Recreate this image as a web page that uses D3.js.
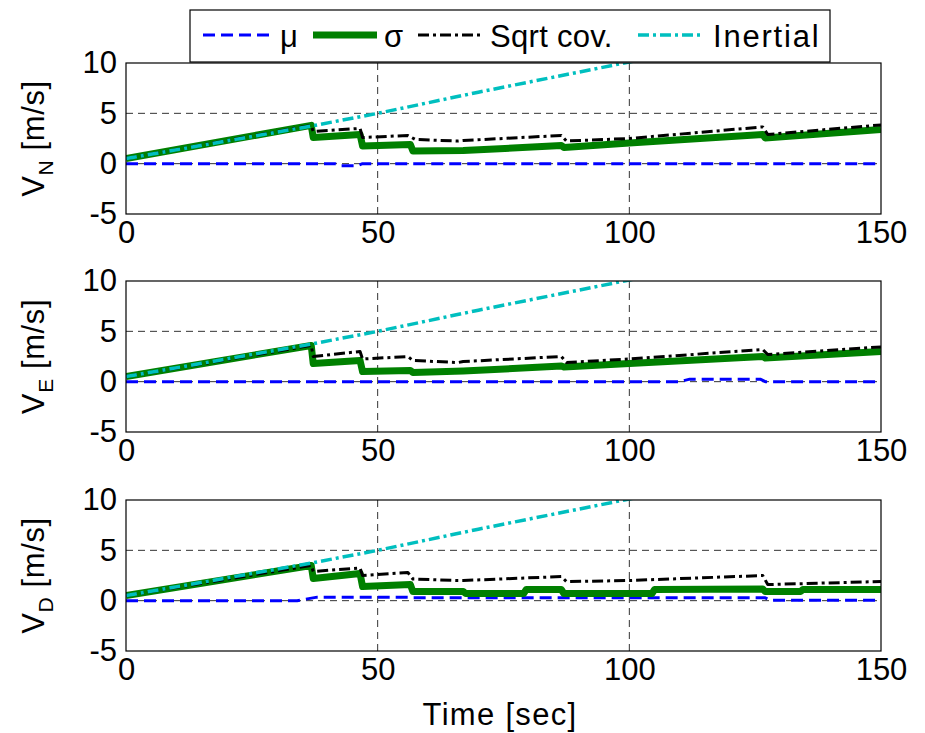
<!DOCTYPE html>
<html>
<head>
<meta charset="utf-8">
<script src="https://cdn.jsdelivr.net/npm/d3@7"></script>
<style>
  html, body { margin: 0; padding: 0; background: #fff; }
  svg { display: block; }
  text { font-family: "Liberation Sans", Arial, Helvetica, sans-serif; fill: #000; }
</style>
</head>
<body>
<svg id="chart" width="925" height="733"></svg>
<script>
// ---------------- DATA ----------------
const timeTicks = [0, 50, 100, 150];
const valueTicks = [-5, 0, 5, 10];
const panelNames = ["N", "E", "D"];
const legendLabels = ["\u03bc", "\u03c3", "Sqrt cov.", "Inertial"];
const xLabel = "Time [sec]";

// Inertial (same in all panels)
const inertialT = [0, 37, 50, 70, 100, 150];
const inertialV = [0.5, 3.75, 5.0, 7.1, 10.1, 15.3];

// Panel V_N
const muT_N = [0, 41.5, 42.5, 46, 47, 150];
const muV_N = [0, 0, -0.2, -0.2, 0, 0];
const sigmaT_N = [0, 36.8, 37.2, 46.5, 47, 56.5, 57, 67, 86.5, 87, 100, 126.5, 127, 150];
const sigmaV_N = [0.5, 3.8, 2.6, 2.9, 1.75, 1.9, 1.25, 1.3, 1.8, 1.6, 2.05, 2.9, 2.55, 3.4];
const covT_N = [0, 36.8, 37.2, 46.5, 47, 56, 57.5, 66, 67, 86.5, 87.5, 100, 126.5, 127.5, 150];
const covV_N = [0.5, 3.8, 3.2, 3.5, 2.6, 2.8, 2.4, 2.25, 2.3, 2.8, 2.25, 2.5, 3.65, 2.9, 3.85];

// Panel V_E
const muT_E = [0, 110, 112, 126, 127, 150];
const muV_E = [0, 0, 0.25, 0.25, 0, 0];
const sigmaT_E = [0, 36.8, 37.2, 46.5, 47, 56.5, 57, 67, 86.5, 87, 100, 126.5, 127, 150];
const sigmaV_E = [0.5, 3.6, 1.8, 2.1, 1.0, 1.1, 0.9, 1.05, 1.55, 1.45, 1.8, 2.5, 2.35, 3.0];
const covT_E = [0, 36.8, 37.2, 46.5, 47, 56, 57, 66, 67, 86.5, 87.5, 100, 126.5, 127.5, 150];
const covV_E = [0.5, 3.6, 2.5, 3.0, 2.25, 2.5, 2.1, 1.9, 2.0, 2.5, 1.9, 2.25, 3.2, 2.7, 3.45];

// Panel V_D
const muT_D = [0, 34, 38, 56, 57, 127, 128, 150];
const muV_D = [0, 0, 0.35, 0.35, 0.28, 0.28, 0.03, 0.03];
const sigmaT_D = [0, 36.8, 37.2, 46.5, 47, 56.5, 57, 67, 67.5, 79, 79.5, 86.5, 87, 104.5, 105, 126.5, 127, 134, 134.5, 150];
const sigmaV_D = [0.5, 3.5, 2.2, 2.7, 1.4, 1.6, 0.9, 0.9, 0.7, 0.7, 1.1, 1.1, 0.7, 0.7, 1.1, 1.15, 0.9, 0.9, 1.1, 1.1];
const covT_D = [0, 36.8, 37.2, 46.5, 47, 56, 57, 66, 67, 86.5, 87.5, 100, 126.5, 127.5, 150];
const covV_D = [0.5, 3.5, 2.9, 3.25, 2.5, 2.8, 2.15, 2.0, 2.0, 2.4, 1.9, 2.0, 2.5, 1.6, 1.9];

const panelData = [
  { mu: [muT_N, muV_N], sigma: [sigmaT_N, sigmaV_N], cov: [covT_N, covV_N] },
  { mu: [muT_E, muV_E], sigma: [sigmaT_E, sigmaV_E], cov: [covT_E, covV_E] },
  { mu: [muT_D, muV_D], sigma: [sigmaT_D, sigmaV_D], cov: [covT_D, covV_D] }
];

// ---------------- STYLE / LAYOUT ----------------
const styles = {
  mu:       { color: "#0000ff", width: 3,   dash: "12,6" },
  sigma:    { color: "#008000", width: 7,   dash: null },
  cov:      { color: "#000000", width: 3,   dash: "11,4,3,4" },
  inertial: { color: "#00bfbf", width: 3.5, dash: "11,4,3,4" }
};
const left = 126, right = 881, panelH = 151;
const panelTops = [63, 281, 500];
const fontSize = 31;
const fontFamily = '"Liberation Sans", Arial, sans-serif';

const svg = d3.select("#chart");
const x = d3.scaleLinear().domain([0, 150]).range([left, right]);

panelData.forEach((pd, i) => {
  const top = panelTops[i];
  const y = d3.scaleLinear().domain([-5, 10]).range([top + panelH, top]);
  const g = svg.append("g");

  const clipId = "clip" + i;
  svg.append("clipPath").attr("id", clipId)
    .append("rect").attr("x", left).attr("y", top).attr("width", right - left).attr("height", panelH);

  // grid
  const grid = g.append("g");
  grid.selectAll("line.gy").data(valueTicks.filter(v => v > -5 && v < 10)).enter().append("line")
    .attr("x1", left).attr("x2", right).attr("y1", d => y(d)).attr("y2", d => y(d))
    .attr("stroke", "#333").attr("stroke-width", 1).attr("stroke-dasharray", "7,5");
  grid.selectAll("line.gx").data(timeTicks.filter(v => v > 0 && v < 150)).enter().append("line")
    .attr("y1", top).attr("y2", top + panelH).attr("x1", d => x(d)).attr("x2", d => x(d))
    .attr("stroke", "#333").attr("stroke-width", 1).attr("stroke-dasharray", "7,5");

  const line = d3.line().x(d => x(d[0])).y(d => y(d[1]));
  const plot = g.append("g").attr("clip-path", `url(#${clipId})`);
  const series = [
    ["mu", pd.mu], ["sigma", pd.sigma], ["cov", pd.cov], ["inertial", [inertialT, inertialV]]
  ];
  series.forEach(([key, [T, V]]) => {
    const s = styles[key];
    plot.append("path")
      .datum(T.map((t, k) => [t, V[k]]))
      .attr("d", line)
      .attr("fill", "none")
      .attr("stroke", s.color)
      .attr("stroke-width", s.width)
      .attr("stroke-dasharray", s.dash)
      .attr("stroke-linejoin", "round");
  });

  // axes box
  g.append("rect").attr("x", left).attr("y", top).attr("width", right - left).attr("height", panelH)
    .attr("fill", "none").attr("stroke", "#000").attr("stroke-width", 1.2);

  // axes with tick labels
  const yAxis = d3.axisLeft(y).tickValues(valueTicks).tickSize(0).tickPadding(9).tickFormat(d => String(d));
  const ya = g.append("g").attr("transform", `translate(${left},0)`).call(yAxis);
  ya.select(".domain").remove();
  ya.selectAll("text").style("font-size", fontSize + "px").style("font-family", fontFamily);

  const xAxis = d3.axisBottom(x).tickValues(timeTicks).tickSize(0).tickPadding(7).tickFormat(d => String(d));
  const xa = g.append("g").attr("transform", `translate(0,${top + panelH})`).call(xAxis);
  xa.select(".domain").remove();
  xa.selectAll("text").style("font-size", fontSize + "px").style("font-family", fontFamily);

  // y label
  const yl = svg.append("text")
    .attr("transform", `translate(44,${top + panelH / 2}) rotate(-90)`)
    .attr("text-anchor", "middle")
    .style("font-size", fontSize + "px")
    .style("letter-spacing", "0.6px");
  yl.append("tspan").text("V");
  yl.append("tspan").attr("dy", 9).style("font-size", "21px").text(panelNames[i]);
  yl.append("tspan").attr("dy", -9).text(" [m/s]");
});

// x label
svg.append("text").attr("x", 500).attr("y", 725).attr("text-anchor", "middle")
  .style("font-size", fontSize + "px").style("letter-spacing", "1.3px").text(xLabel);

// legend
const lg = svg.append("g");
lg.append("rect").attr("x", 190).attr("y", 10).attr("width", 640).attr("height", 52)
  .attr("fill", "#fff").attr("stroke", "#000").attr("stroke-width", 1.2);
const legendKeys = ["mu", "sigma", "cov", "inertial"];
const legendLineX = [[203, 270], [313, 377], [418, 482], [638, 702]];
const legendTextX = [280, 384, 490, 713];
const legendSpacing = [0, 0, 0.3, 1.8];
legendKeys.forEach((k, i) => {
  const s = styles[k];
  lg.append("line").attr("x1", legendLineX[i][0]).attr("x2", legendLineX[i][1])
    .attr("y1", 35).attr("y2", 35)
    .attr("stroke", s.color).attr("stroke-width", s.width).attr("stroke-dasharray", s.dash);
  lg.append("text").attr("x", legendTextX[i]).attr("y", 47)
    .style("font-size", fontSize + "px")
    .style("letter-spacing", legendSpacing[i] + "px")
    .text(legendLabels[i]);
});
</script>
</body>
</html>
